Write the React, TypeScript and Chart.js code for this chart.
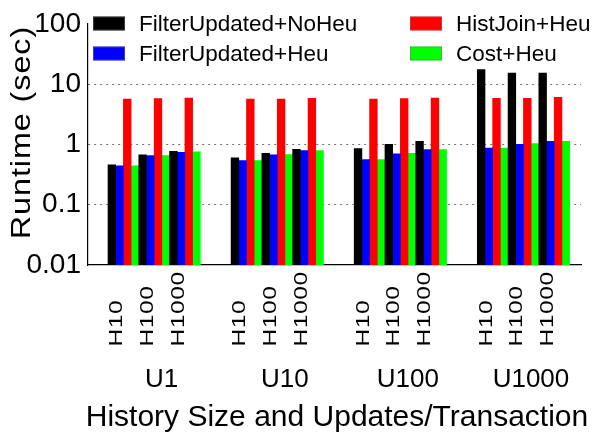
import React, { useEffect, useRef } from "react";
import { Chart, registerables } from "chart.js";

Chart.register(...registerables);

// ---- data ----
const groupLabels = ["U1", "U10", "U100", "U1000"];
const historyLabels = ["H10", "H100", "H1000"];
const seriesNames = ["FilterUpdated+NoHeu", "FilterUpdated+Heu", "HistJoin+Heu", "Cost+Heu"];
const seriesColors = ["#000000", "#0000ff", "#ff0000", "#00ff00"];
// order: U1(H10,H100,H1000), U10(...), U100(...), U1000(...)
const filterUpdatedNoHeu = [0.46, 0.67, 0.77, 0.6, 0.71, 0.83, 0.85, 1.0, 1.12, 17.4, 15.3, 15.3];
const filterUpdatedHeu = [0.44, 0.65, 0.74, 0.54, 0.67, 0.79, 0.56, 0.7, 0.82, 0.87, 1.0, 1.12];
const histJoinHeu = [5.66, 5.73, 5.87, 5.66, 5.66, 5.8, 5.66, 5.73, 5.87, 5.8, 5.8, 6.02];
const costHeu = [0.44, 0.65, 0.75, 0.54, 0.68, 0.79, 0.56, 0.71, 0.82, 0.87, 1.03, 1.12];
const yTicks = [0.01, 0.1, 1, 10, 100];
const yTitle = "Runtime (sec)";
const xTitle = "History Size and Updates/Transaction";

const allSeries = [filterUpdatedNoHeu, filterUpdatedHeu, histJoinHeu, costHeu];
const FONT = "'Liberation Sans', Arial, Helvetica, sans-serif";

// slot index on the x axis: 4 slots per group (3 used + 1 gap)
const slotOf = (i: number) => Math.floor(i / 3) * 4 + (i % 3);
const slotValues = filterUpdatedNoHeu.map((_, i) => slotOf(i));

function drawStretched(ctx: CanvasRenderingContext2D, text: string, sx: number, sp: number) {
  let pos = 0;
  for (const ch of text) {
    ctx.save();
    ctx.translate(pos, 0);
    ctx.scale(sx, 1);
    ctx.fillText(ch, 0, 0);
    ctx.restore();
    pos += ctx.measureText(ch).width * sx + sp;
  }
  return pos - sp;
}

function measureStretched(ctx: CanvasRenderingContext2D, text: string, sx: number, sp: number) {
  let pos = 0;
  for (const ch of text) pos += ctx.measureText(ch).width * sx + sp;
  return pos - sp;
}

const textPlugin = {
  id: "customText",
  afterDraw(chart: any) {
    const ctx: CanvasRenderingContext2D = chart.ctx;
    const xs = chart.scales.x;
    const area = chart.chartArea;
    ctx.save();
    ctx.fillStyle = "#000";
    ctx.textAlign = "left";
    ctx.textBaseline = "alphabetic";

    // legend (two columns, column-major)
    const colX = [93, 410];
    const rowY = [16.5, 46.5];
    ctx.font = `22.5px ${FONT}`;
    chart.data.datasets.forEach((ds: any, i: number) => {
      const cx = colX[Math.floor(i / 2)];
      const cy = rowY[i % 2];
      ctx.fillStyle = ds.backgroundColor;
      ctx.fillRect(cx, cy, 32, 14);
      ctx.strokeStyle = "rgba(120,120,120,0.5)";
      ctx.lineWidth = 1;
      ctx.strokeRect(cx + 0.5, cy + 0.5, 31, 13);
      ctx.fillStyle = "#000";
      ctx.fillText(ds.label, cx + 46, cy + 14.5);
    });

    // rotated history labels
    ctx.font = `19px ${FONT}`;
    filterUpdatedNoHeu.forEach((_, i) => {
      const px = xs.getPixelForValue(slotOf(i));
      ctx.save();
      ctx.translate(px - 1, 346.5);
      ctx.rotate(-Math.PI / 2);
      drawStretched(ctx, historyLabels[i % 3], 1.3, 0.5);
      ctx.restore();
    });

    // group labels
    ctx.font = `26px ${FONT}`;
    ctx.textAlign = "center";
    groupLabels.forEach((g, gi) => {
      const px = xs.getPixelForValue(gi * 4 + 1);
      ctx.fillText(g, px + 7.5, 387);
    });

    // x title
    ctx.font = `30px ${FONT}`;
    ctx.fillText(xTitle, (area.left + area.right) / 2 + 2.5, 426);

    // y title (rotated, stretched)
    ctx.textAlign = "left";
    ctx.font = `27px ${FONT}`;
    const w = measureStretched(ctx, yTitle, 1.2, 0.9);
    ctx.save();
    ctx.translate(29.5, 133 + w / 2);
    ctx.rotate(-Math.PI / 2);
    drawStretched(ctx, yTitle, 1.2, 0.9);
    ctx.restore();

    ctx.restore();
  },
};

export default function App() {
  const ref = useRef<HTMLCanvasElement>(null);

  useEffect(() => {
    const canvas = ref.current;
    if (!canvas) return;
    const chart = new Chart(canvas, {
      type: "bar",
      data: {
        datasets: allSeries.map((vals, si) => ({
          label: seriesNames[si],
          data: vals.map((v, i) => ({ x: slotValues[i], y: v })),
          backgroundColor: seriesColors[si],
          borderWidth: 0,
          categoryPercentage: 1,
          barPercentage: 1,
        })),
      },
      options: {
        responsive: false,
        animation: false,
        layout: { padding: { left: 0, right: 17, top: 19.5, bottom: 0 } },
        plugins: {
          legend: { display: false },
          tooltip: { enabled: false },
          title: { display: false },
        },
        scales: {
          x: {
            type: "linear",
            min: -1.15,
            max: 14.87,
            offset: false,
            grid: { display: false, offset: false },
            border: { display: true, color: "#000", width: 1.2 },
            ticks: { display: false },
            afterBuildTicks: (scale: any) => {
              scale.ticks = slotValues.map((v) => ({ value: v }));
            },
            afterFit: (scale: any) => {
              scale.height = 175;
            },
          },
          y: {
            type: "logarithmic",
            min: 0.01,
            max: 100,
            afterBuildTicks: (scale: any) => {
              scale.ticks = yTicks.map((v) => ({ value: v }));
            },
            afterFit: (scale: any) => {
              scale.width = 88;
            },
            ticks: {
              autoSkip: false,
              color: "#000",
              padding: 7,
              font: { family: FONT, size: 28 },
              callback: (v: any) => String(v),
            },
            grid: {
              drawTicks: false,
              lineWidth: 1,
              color: (c: any) =>
                c.tick && (c.tick.value === 0.01 || c.tick.value === 100) ? "rgba(0,0,0,0)" : "#707070",
            },
            border: { display: true, color: "#000", width: 1.2, dash: [2, 4] },
          },
        },
      },
      plugins: [textPlugin],
    } as any);
    return () => chart.destroy();
  }, []);

  return (
    <div style={{ position: "fixed", left: 0, top: 0, width: 598, height: 440, background: "#fff" }}>
      <canvas ref={ref} width={598} height={440} style={{ display: "block", width: 598, height: 440 }} />
    </div>
  );
}
